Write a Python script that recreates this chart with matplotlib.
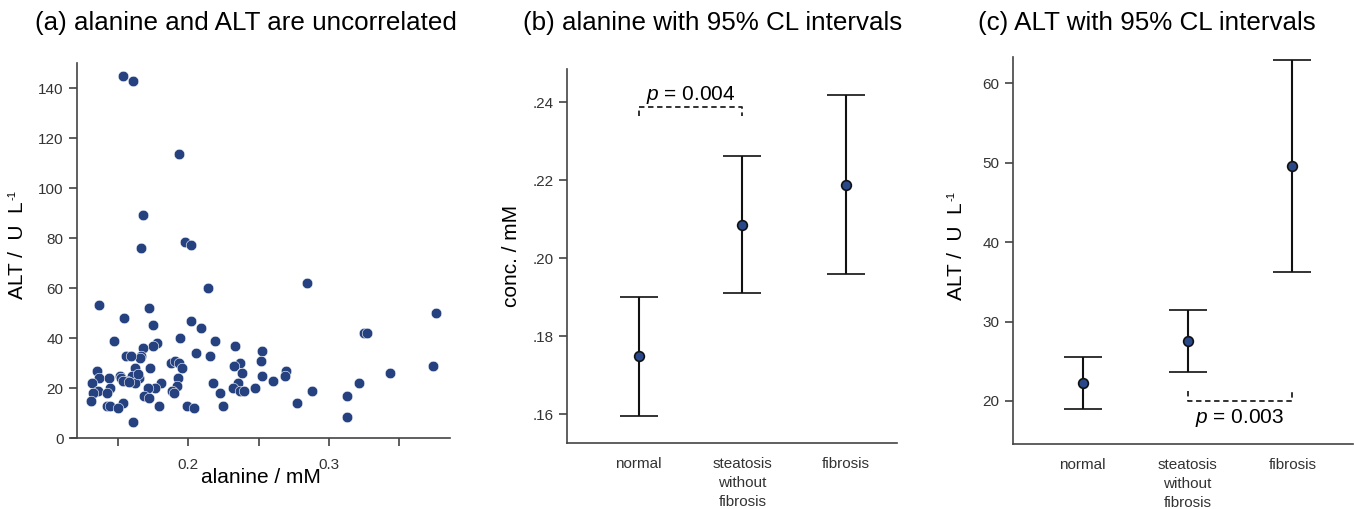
import numpy as np
import matplotlib
matplotlib.use("Agg")
from matplotlib import pyplot as plt

plt.rcParams['font.family'] = ['Liberation Sans', 'DejaVu Sans']
plt.rcParams['mathtext.fontset'] = 'custom'
plt.rcParams['mathtext.rm'] = 'Liberation Sans'
plt.rcParams['mathtext.it'] = 'Liberation Sans:italic'
plt.rcParams['mathtext.default'] = 'regular'

# (a) scatter: alanine (mM) vs ALT (U/L)
alanine = [0.1538, 0.1609, 0.1936, 0.1675, 0.1664, 0.1976, 0.2017, 0.2137, 0.2846, 0.1367,
           0.1718, 0.1543, 0.2017, 0.3760, 0.1751, 0.2090, 0.3249, 0.3267, 0.1474, 0.1943,
           0.2190, 0.1780, 0.1751, 0.2329, 0.1675, 0.2526, 0.2057, 0.1666, 0.1659, 0.1557,
           0.1590, 0.2156, 0.2514, 0.1874, 0.1905, 0.1936, 0.2365, 0.2325, 0.3741, 0.1953,
           0.1727, 0.1621, 0.1349, 0.2694, 0.2687, 0.2384, 0.3433, 0.2526, 0.1514, 0.1521,
           0.1929, 0.1367, 0.1436, 0.1652, 0.1597, 0.1562, 0.1538, 0.2599, 0.1313, 0.1621,
           0.1803, 0.2178, 0.2351, 0.3213, 0.1917, 0.1766, 0.1716, 0.1443, 0.2320, 0.2471,
           0.1886, 0.2367, 0.2398, 0.2881, 0.1360, 0.1320, 0.1420, 0.1900, 0.2225, 0.3125,
           0.1685, 0.1718, 0.1306, 0.2772, 0.1533, 0.1420, 0.1443, 0.1792, 0.1988, 0.2244,
           0.1502, 0.2043, 0.3125, 0.1609, 0.1640, 0.1580]
alt = [144.9, 142.9, 113.6, 89.1, 76.0, 78.3, 77.1, 60.0, 62.0, 53.1,
       52.0, 48.0, 46.9, 50.0, 45.1, 44.0, 42.0, 42.0, 38.9, 39.9,
       38.9, 37.9, 36.9, 36.9, 36.0, 34.9, 34.0, 32.9, 32.0, 32.9,
       32.9, 32.9, 30.9, 30.0, 30.9, 30.0, 30.0, 28.9, 28.9, 28.0,
       28.0, 28.0, 26.9, 26.9, 24.9, 26.0, 26.0, 24.9, 24.9, 24.0,
       24.0, 24.0, 24.0, 24.0, 24.9, 23.1, 23.1, 22.9, 22.0, 22.0,
       22.0, 22.0, 22.0, 22.0, 21.1, 20.0, 20.0, 20.0, 20.0, 20.0,
       19.1, 18.9, 18.9, 18.9, 18.9, 18.0, 18.0, 18.0, 18.0, 16.9,
       16.9, 16.0, 14.9, 14.0, 14.0, 12.9, 12.9, 12.9, 12.9, 12.9,
       12.3, 12.3, 8.4, 6.4, 25.5, 22.5]

groups = ['normal', 'steatosis\nwithout\nfibrosis', 'fibrosis']

# (b) alanine mean and 95% CL
ala_mean = [0.1749, 0.2085, 0.2187]
ala_low = [0.1595, 0.1910, 0.1959]
ala_high = [0.1900, 0.2262, 0.2418]

# (c) ALT mean and 95% CL
alt_mean = [22.2, 27.56, 49.6]
alt_low = [18.95, 23.6, 36.3]
alt_high = [25.5, 31.43, 63.0]

dot_color = '#25417f'
axis_color = '#444444'
W, H = 1354, 509

fig = plt.figure(figsize=(W / 100, H / 100), dpi=100)


def box(l, r, b, t):
    return [l / W, 1 - b / H, (r - l) / W, (b - t) / H]


def style(ax):
    for s in ['top', 'right']:
        ax.spines[s].set_visible(False)
    for s in ['left', 'bottom']:
        ax.spines[s].set_color(axis_color)
        ax.spines[s].set_linewidth(1.2)
    ax.tick_params(colors='#333333', labelsize=11, length=6, width=1.1)


def alt_label(ax, pad):
    # ylabel with a small "-1" superscript after it
    ax.set_ylabel('ALT /  U  L', fontsize=15, labelpad=pad)
    ax.annotate('-1', xy=(0, 1), xycoords=ax.yaxis.label, xytext=(-0.5, 1),
                textcoords='offset points', rotation=90, fontsize=8,
                ha='left', va='bottom', color='black')


# ---- panel a
ax1 = fig.add_axes(box(71, 450, 438.3, 63))
style(ax1)
ax1.scatter(alanine, alt, s=58, color=dot_color, edgecolors='white', linewidths=0.4, zorder=3)
ax1.set_xlim(0.1166, 0.386)
ax1.set_ylim(0, 150)
ax1.spines['left'].set_position(('data', 0.1206))
ax1.set_xticks([0.15, 0.2, 0.25, 0.3, 0.35])
ax1.set_xticklabels(['', '0.2', '', '0.3', ''])
ax1.set_yticks(np.arange(0, 141, 20))
ax1.tick_params(axis='x', pad=8)
ax1.set_xlabel('alanine / mM', fontsize=15, labelpad=-3)
alt_label(ax1, 8)

# ---- panel b
ax2 = fig.add_axes(box(566.7, 896.7, 443.3, 69.3))
style(ax2)
xpos = np.arange(len(groups))
ax2.errorbar(xpos, ala_mean,
             yerr=[np.array(ala_mean) - np.array(ala_low), np.array(ala_high) - np.array(ala_mean)],
             fmt='o', color='#111111', ecolor='#111111', elinewidth=1.5, capsize=14, capthick=1.5,
             markersize=7, markerfacecolor='#28488a', markeredgecolor='#111111', markeredgewidth=1.2)
ax2.set_xlim(-0.694, 2.489)
ax2.set_ylim(0.1525, 0.2485)
ax2.set_yticks([0.16, 0.18, 0.20, 0.22, 0.24])
ax2.set_yticklabels(['.16', '.18', '.20', '.22', '.24'])
ax2.set_xticks(xpos)
ax2.set_xticklabels(groups, fontsize=11, linespacing=1.45)
ax2.tick_params(axis='x', length=0, pad=10)
ax2.set_ylabel('conc. / mM', fontsize=15, labelpad=8)
# significance bracket
yb, yd = 0.2388, 0.2364
ax2.plot([0, 0, 1, 1], [yd, yb, yb, yd], ls=(0, (3, 2)), color='#222222', lw=1.3)
ax2.text(0.5, 0.2406, '$\\it{p}$ = 0.004', ha='center', va='baseline', fontsize=15)

# ---- panel c
ax3 = fig.add_axes(box(1012.7, 1352.7, 444.3, 57.3))
style(ax3)
ax3.errorbar(xpos, alt_mean,
             yerr=[np.array(alt_mean) - np.array(alt_low), np.array(alt_high) - np.array(alt_mean)],
             fmt='o', color='#111111', ecolor='#111111', elinewidth=1.5, capsize=14, capthick=1.5,
             markersize=7, markerfacecolor='#28488a', markeredgecolor='#111111', markeredgewidth=1.2)
ax3.set_xlim(-0.668, 2.576)
ax3.set_ylim(14.54, 63.28)
ax3.set_yticks([20, 30, 40, 50, 60])
ax3.set_xticks(xpos)
ax3.set_xticklabels(groups, fontsize=11, linespacing=1.45)
ax3.tick_params(axis='x', length=0, pad=10)
alt_label(ax3, 12)
yb, yd = 20.05, 21.3
ax3.plot([1, 1, 2, 2], [yd, yb, yb, yd], ls=(0, (3, 2)), color='#222222', lw=1.3)
ax3.text(1.5, 19.2, '$\\it{p}$ = 0.003', ha='center', va='top', fontsize=15)

# titles
fig.text(246 / W, 1 - 23 / H, '(a) alanine and ALT are uncorrelated', ha='center', va='center', fontsize=18.7)
fig.text(712.5 / W, 1 - 23 / H, '(b) alanine with 95% CL intervals', ha='center', va='center', fontsize=18.7)
fig.text(1146.7 / W, 1 - 23 / H, '(c) ALT with 95% CL intervals', ha='center', va='center', fontsize=18.7)

fig.savefig('out.png', dpi=100)
